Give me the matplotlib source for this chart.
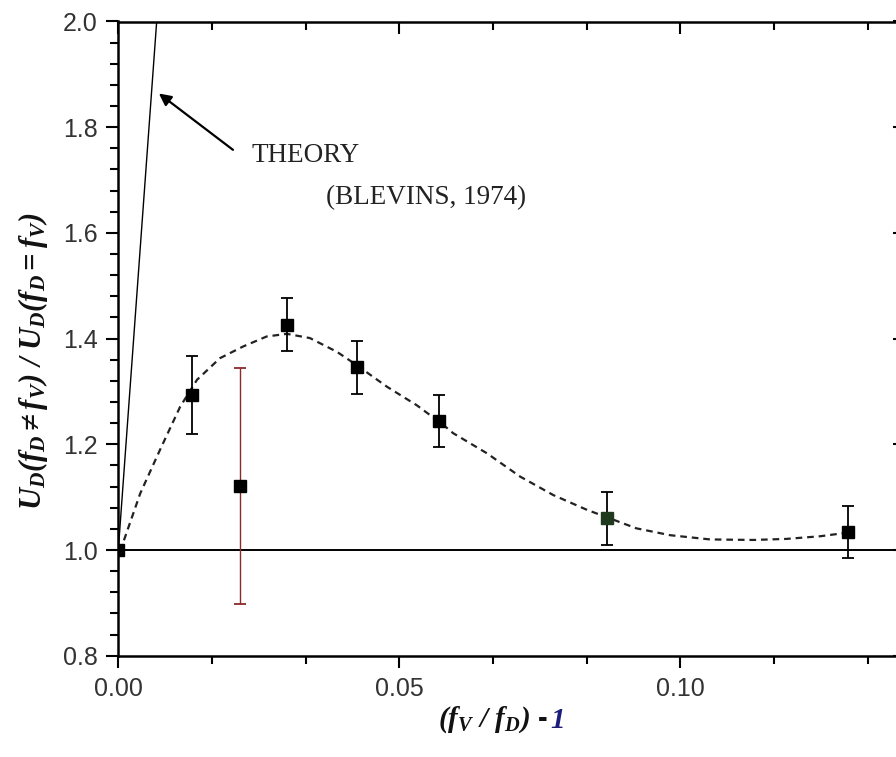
#!/usr/bin/env python
# coding: utf-8

import numpy as np
import matplotlib
matplotlib.use('Agg')
import matplotlib.pyplot as plt
from matplotlib.ticker import MultipleLocator, FormatStrFormatter

plt.rcParams['font.family'] = ['Liberation Sans', 'DejaVu Sans']
plt.rcParams['mathtext.fontset'] = 'custom'
plt.rcParams['mathtext.rm'] = 'Liberation Serif:bold:italic'
plt.rcParams['mathtext.it'] = 'Liberation Serif:bold:italic'
plt.rcParams['mathtext.bf'] = 'Liberation Serif:bold:italic'

# measured points, (fV/fD) - 1 vs amplitude ratio
freq_ratio = [0.0, 0.0131, 0.0217, 0.0300, 0.0424, 0.0571, 0.0869, 0.1299]
amp_ratio = [1.0, 1.293, 1.121, 1.426, 1.346, 1.244, 1.060, 1.034]
amp_err = [0.0, 0.074, 0.224, 0.050, 0.050, 0.050, 0.050, 0.050]
marker_col = ['k', 'k', 'k', 'k', 'k', 'k', '#1f3a1f', 'k']
err_col = ['k', 'k', '#8b2a2a', 'k', 'k', 'k', 'k', 'k']

# fitted trend (dashed)
fit_x = [0.0, 0.0006, 0.0039, 0.0074, 0.0110, 0.0140, 0.0181, 0.0222, 0.0264,
         0.0300, 0.0341, 0.0389, 0.0424, 0.0478, 0.0531, 0.0578, 0.0596, 0.0656,
         0.0715, 0.0774, 0.0834, 0.0922, 0.0982, 0.1053, 0.1130, 0.1189, 0.1249,
         0.1299]
fit_y = [1.0, 1.006, 1.107, 1.189, 1.271, 1.322, 1.363, 1.385, 1.404,
         1.409, 1.401, 1.375, 1.350, 1.309, 1.274, 1.237, 1.221, 1.183,
         1.139, 1.104, 1.076, 1.041, 1.028, 1.020, 1.019, 1.021, 1.026,
         1.033]

# theory line (Blevins, 1974)
theory_x = [0.0, 0.0075]
theory_y = [1.0, 2.098]

# arrow pointing to the theory line
arrow_tip = (0.00683, 1.867)
arrow_tail = (0.0208, 1.754)

W, H = 896, 757
fig = plt.figure(figsize=(W / 100, H / 100), dpi=100)
ax = fig.add_axes([118.3 / W, 1 - 655.7 / H, (905 - 118.3) / W, (655.7 - 21.5) / H])

ax.axhline(1.0, color='k', lw=1.4, zorder=2)
ax.plot(theory_x, theory_y, color='k', lw=1.0, zorder=2)
ax.plot(fit_x, fit_y, color='#222222', lw=1.6, ls=(0, (3, 2.2)), zorder=3)

for i in range(len(freq_ratio)):
    if amp_err[i] > 0:
        ax.errorbar(freq_ratio[i], amp_ratio[i], yerr=amp_err[i], fmt='none',
                    ecolor=err_col[i], elinewidth=1.3 if err_col[i] == 'k' else 1.0,
                    capsize=4.5, capthick=1.3, zorder=4)
    ax.plot(freq_ratio[i], amp_ratio[i], 's', color=marker_col[i], ms=8, zorder=5)

ax.annotate('', xy=arrow_tip, xytext=arrow_tail,
            arrowprops=dict(arrowstyle='-|>', color='k', lw=1.6, mutation_scale=18))
ax.text(0.0237, 1.735, 'THEORY', family='Liberation Serif', fontsize=19.5,
        color='#222222', va='baseline')
ax.text(0.0370, 1.655, '(BLEVINS, 1974)', family='Liberation Serif', fontsize=19.5,
        color='#222222', va='baseline')

ax.set_xlim(0, 0.14)
ax.set_ylim(0.8, 2.0)
ax.xaxis.set_major_locator(MultipleLocator(0.05))
ax.xaxis.set_minor_locator(MultipleLocator(0.05 / 3))
ax.yaxis.set_major_locator(MultipleLocator(0.2))
ax.yaxis.set_minor_locator(MultipleLocator(0.04))
ax.xaxis.set_major_formatter(FormatStrFormatter('%.2f'))
ax.yaxis.set_major_formatter(FormatStrFormatter('%.1f'))

for s in ax.spines.values():
    s.set_linewidth(1.8)
ax.tick_params(which='both', direction='out', width=1.5, colors='k',
               labelcolor='#333333', labelsize=18, pad=6.5)
ax.tick_params(which='major', length=8.5)
ax.tick_params(which='minor', length=5.5)
ax.tick_params(axis='x', which='both', top=True)
ax.tick_params(axis='y', which='major', right=True)

# top and right ticks point inward
for line in ax.xaxis.get_ticklines(minor=True)[1::2] + ax.xaxis.get_ticklines()[1::2]:
    line.set_marker(3)
for line in ax.yaxis.get_ticklines()[1::2]:
    line.set_marker(0)

fig.text(33 / W, 1 - 361 / H,
         r'$U_D(f_D \neq f_V)\ /\ U_D(f_D = f_V)$',
         rotation=90, ha='center', va='center', fontsize=22, color='#111111')
fig.text(550 / W, 1 - 720 / H, r'$(f_V\ /\ f_D)$ - ', ha='right', va='center',
         fontsize=21, color='#111111', fontweight='bold')
fig.text(550 / W, 1 - 720 / H, r'$1$', ha='left', va='center',
         fontsize=21, color='#1c1c7a')

fig.savefig('out.png', dpi=100, facecolor='white')
